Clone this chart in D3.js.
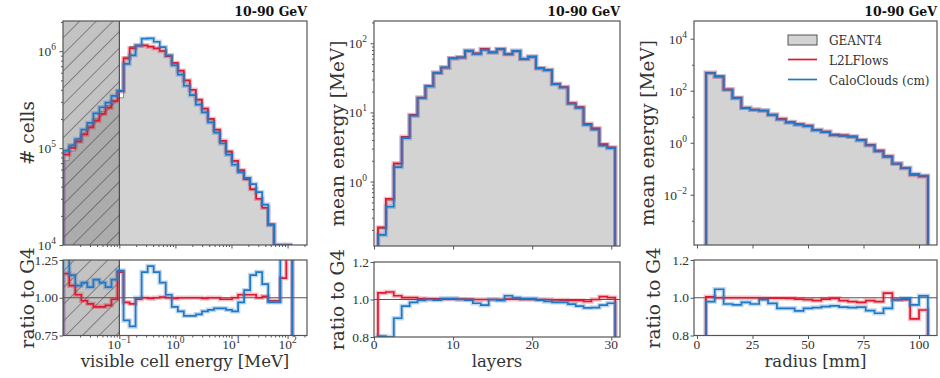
<!DOCTYPE html>
<html>
<head>
<meta charset="utf-8">
<script src="https://cdn.jsdelivr.net/npm/d3@7"></script>
<style>
body { margin: 0; background: #fff; }
.tick-label { font-family: "Liberation Serif", serif; font-size: 13.5px; fill: #333; }
.axis-label { font-family: "DejaVu Serif", serif; fill: #333; }
.title { font-family: "DejaVu Serif", serif; font-weight: bold; font-size: 12.5px; fill: #111; }
.legend { font-family: "DejaVu Serif", serif; font-size: 12px; fill: #333; }
</style>
</head>
<body>
<svg id="svg" width="940" height="378"></svg>
<script>
// ---- data ----

// visible cell energy, log bins from 0.01 MeV
const energyEdges = d3.range(39).map(k => Math.pow(10, -2 + 0.1075 * k));
const energyG4 = [74000, 93000, 115000, 141000, 170000, 204000, 240000, 275000, 309000, 330000,
  870000, 1120000, 1150000, 1150000, 1120000, 1070000, 1000000, 890000, 760000, 630000,
  500000, 400000, 316000, 257000, 200000, 155000, 120000, 93000, 74000, 58000,
  47000, 37000, 30000, 24000, 16600, 8000, 3200, 600];
const energyRatioL2L = [1.16, 1.08, 1.02, 0.98, 0.96, 0.94, 0.94, 0.95, 0.99, 1.17,
  0.97, 0.96, 0.99, 1.0, 0.995, 1.0, 1.005, 1.0, 0.995, 1.0,
  1.0, 1.0, 1.0, 0.995, 1.0, 1.0, 0.99, 0.99, 1.0, 1.02,
  1.02, 1.02, 1.0, 1.01, 0.98, 0.98, 1.13, 1.4];
const energyRatioCC = [1.27, 1.15, 1.08, 1.10, 1.07, 1.12, 1.10, 1.07, 1.12, 1.18,
  0.85, 0.81, 1.0, 1.17, 1.21, 1.17, 1.10, 1.02, 0.94, 0.91,
  0.88, 0.88, 0.89, 0.91, 0.92, 0.93, 0.93, 0.92, 0.91, 0.97,
  1.05, 1.15, 1.17, 1.09, 0.97, 0.97, 1.4, 1.5];

// layers 1..30
const layerEdges = d3.range(31).map(i => i + 0.5);
const layerG4 = [0.21, 0.54, 1.8, 4.4, 9.1, 16.3, 24, 37.5, 44.5, 60.5,
  62.5, 78, 71.5, 83, 74, 82.5, 69, 77, 59.3, 64,
  43.6, 41.3, 26, 23.3, 13.7, 12, 6.9, 5.9, 3.42, 3.1];
const layerRatioL2L = [1.035, 1.04, 1.02, 1.01, 1.01, 1.005, 1.003, 1.003, 1.003, 1.003,
  1.002, 1.002, 1.0, 1.0, 1.0, 1.0, 1.002, 1.002, 1.0, 1.0,
  1.0, 1.0, 0.998, 0.997, 0.995, 0.995, 0.99, 1.0, 1.015, 1.01];
const layerRatioCC = [0.805, 0.8, 0.9, 0.965, 0.985, 0.995, 1.0, 0.997, 1.005, 1.005,
  1.0, 0.997, 0.98, 0.97, 1.0, 0.995, 1.02, 1.01, 1.005, 1.005,
  0.997, 0.99, 0.985, 0.985, 0.975, 0.965, 0.955, 0.957, 0.97, 0.98];

// radius, 4 mm bins
const radiusEdges = d3.range(26).map(i => 4 + 4 * i);
const radiusG4 = [490, 348, 113, 54, 22, 19, 17.4, 12.1, 8.3, 6.3,
  5.3, 4.6, 3.2, 2.7, 2.05, 1.95, 1.78, 1.32, 0.85, 0.51,
  0.30, 0.16, 0.107, 0.065, 0.054];
const radiusRatioL2L = [1.005, 1.0, 1.0, 1.0, 1.0, 1.0, 0.998, 0.998, 0.998, 0.997,
  0.993, 0.99, 0.985, 0.993, 0.997, 0.985, 0.98, 0.975, 0.985, 0.98,
  1.025, 0.99, 0.99, 0.888, 0.935];
const radiusRatioCC = [0.98, 1.045, 0.967, 0.962, 0.976, 0.967, 0.99, 0.97, 0.944, 0.944,
  0.93, 0.944, 0.948, 0.953, 0.957, 0.95, 0.948, 0.95, 0.932, 0.918,
  0.944, 0.99, 0.998, 0.962, 1.01];

const legendNames = ['GEANT4', 'L2LFlows', 'CaloClouds (cm)'];
const titleText = '10-90 GeV';

const red = '#e0182f';
const blue = '#1f77c6';

var svg = d3.select('#svg');
var defs = svg.append('defs');

// hatch for the cut region
var hatch = defs.append('pattern')
  .attr('id', 'hatch')
  .attr('patternUnits', 'userSpaceOnUse')
  .attr('width', 11.8).attr('height', 11.8)
  .attr('patternTransform', 'rotate(45)');
hatch.append('line')
  .attr('x1', 0).attr('y1', 0).attr('x2', 0).attr('y2', 11.8)
  .attr('stroke', '#2a2a2a').attr('stroke-width', 1);

function minorLog(domain) {
  var out = [];
  var lo = Math.floor(Math.log10(domain[0])), hi = Math.ceil(Math.log10(domain[1]));
  for (var e = lo; e <= hi; e++) {
    for (var m = 2; m <= 9; m++) {
      var v = m * Math.pow(10, e);
      if (v >= domain[0] && v <= domain[1]) out.push(v);
    }
  }
  return out;
}

function stepPoints(x, y, edges, vals, base, top) {
  var pts = [[x(edges[0]), base]];
  for (var i = 0; i < vals.length; i++) {
    var yy = vals[i] > 0 ? Math.max(top - 20, Math.min(base, y(vals[i]))) : base;
    pts.push([x(edges[i]), yy]);
    pts.push([x(edges[i + 1]), yy]);
  }
  pts.push([x(edges[edges.length - 1]), base]);
  return pts;
}

function powLabel(sel, exp) {
  sel.text('10');
  sel.append('tspan').attr('dy', -6).attr('font-size', 9.5).text(exp);
}

var line = d3.line();

function panel(p) {
  var g = svg.append('g');

  // clips
  defs.append('clipPath').attr('id', 'cm' + p.id).append('rect')
    .attr('x', p.left).attr('y', p.top).attr('width', p.right - p.left).attr('height', p.bottom - p.top);
  defs.append('clipPath').attr('id', 'cr' + p.id).append('rect')
    .attr('x', p.left).attr('y', p.rtop).attr('width', p.right - p.left).attr('height', p.rbottom - p.rtop);

  var main = g.append('g').attr('clip-path', 'url(#cm' + p.id + ')');
  var rat = g.append('g').attr('clip-path', 'url(#cr' + p.id + ')');

  var l2l = p.g4.map((v, i) => v * p.rL2L[i]);
  var cc = p.g4.map((v, i) => v * p.rCC[i]);

  // G4 filled histogram
  main.append('path')
    .attr('d', line(stepPoints(p.x, p.y, p.edges, p.g4, p.bottom, p.top)))
    .attr('fill', '#d3d3d3').attr('stroke', '#8a8a8a').attr('stroke-width', 1);

  if (p.cut) {
    [[main, p.top, p.bottom], [rat, p.rtop, p.rbottom]].forEach(function (c) {
      c[0].append('rect')
        .attr('x', p.left).attr('y', c[1])
        .attr('width', p.x(p.cut) - p.left).attr('height', c[2] - c[1])
        .attr('fill', '#808080').attr('fill-opacity', 0.47);
      c[0].append('rect')
        .attr('x', p.left).attr('y', c[1])
        .attr('width', p.x(p.cut) - p.left).attr('height', c[2] - c[1])
        .attr('fill', 'url(#hatch)').attr('opacity', 0.9);
      c[0].append('line')
        .attr('x1', p.x(p.cut)).attr('x2', p.x(p.cut)).attr('y1', c[1]).attr('y2', c[2])
        .attr('stroke', '#333').attr('stroke-width', 1);
    });
  }

  // model lines with a light band
  [[l2l, red], [cc, blue]].forEach(function (s) {
    var d = line(stepPoints(p.x, p.y, p.edges, s[0], p.bottom, p.top));
    main.append('path').attr('d', d).attr('fill', 'none')
      .attr('stroke', s[1]).attr('stroke-opacity', 0.28).attr('stroke-width', 4.5);
    main.append('path').attr('d', d).attr('fill', 'none')
      .attr('stroke', s[1]).attr('stroke-width', 1.7);
  });

  // ratio
  rat.append('line')
    .attr('x1', p.left).attr('x2', p.right)
    .attr('y1', p.yr(1)).attr('y2', p.yr(1))
    .attr('stroke', '#555').attr('stroke-width', 1.2);
  [[p.rL2L, red], [p.rCC, blue]].forEach(function (s) {
    var d = line(stepPoints(p.x, p.yr, p.edges, s[0], p.rbottom + 5, p.rtop));
    rat.append('path').attr('d', d).attr('fill', 'none')
      .attr('stroke', s[1]).attr('stroke-opacity', 0.28).attr('stroke-width', 4.5);
    rat.append('path').attr('d', d).attr('fill', 'none')
      .attr('stroke', s[1]).attr('stroke-width', 1.7);
  });

  // frames
  [[p.top, p.bottom], [p.rtop, p.rbottom]].forEach(function (f) {
    g.append('rect')
      .attr('x', p.left).attr('y', f[0])
      .attr('width', p.right - p.left).attr('height', f[1] - f[0])
      .attr('fill', 'none').attr('stroke', '#555').attr('stroke-width', 1.2);
  });

  // axes (ticks only, labels drawn below)
  function ticks(axis, tr, vals, size) {
    var a = g.append('g').attr('transform', tr)
      .call(axis.tickValues(vals).tickFormat('').tickSize(size).tickSizeOuter(0));
    a.select('.domain').remove();
    a.selectAll('.tick line').attr('stroke', '#555').attr('stroke-width', 1);
  }
  ticks(d3.axisBottom(p.x), 'translate(0,' + p.bottom + ')', p.xTicks, 3.5);
  ticks(d3.axisBottom(p.x), 'translate(0,' + p.rbottom + ')', p.xTicks, 3.5);
  if (p.xMinor) {
    ticks(d3.axisBottom(p.x), 'translate(0,' + p.bottom + ')', p.xMinor, 2);
    ticks(d3.axisBottom(p.x), 'translate(0,' + p.rbottom + ')', p.xMinor, 2);
  }
  ticks(d3.axisLeft(p.y), 'translate(' + p.left + ',0)', p.yTicks, 3.5);
  ticks(d3.axisLeft(p.y), 'translate(' + p.left + ',0)', p.yMinor, 2);
  ticks(d3.axisLeft(p.yr), 'translate(' + p.left + ',0)', p.rTicks, 3.5);

  // tick labels
  g.selectAll()
    .data(p.yTicks)
    .enter()
    .append('text')
    .attr('class', 'tick-label')
    .attr('x', p.left - 7)
    .attr('y', d => p.y(d) + 5)
    .attr('text-anchor', 'end')
    .each(function (d) { powLabel(d3.select(this), String(Math.round(Math.log10(d))).replace('-', '\u2212')); });

  g.selectAll()
    .data(p.rTicks)
    .enter()
    .append('text')
    .attr('class', 'tick-label')
    .attr('x', p.left - 5)
    .attr('y', d => p.yr(d) + 4.5)
    .attr('text-anchor', 'end')
    .text(d => d.toFixed(p.rDigits));

  g.selectAll()
    .data(p.xTicks)
    .enter()
    .append('text')
    .attr('class', 'tick-label')
    .attr('x', d => p.x(d))
    .attr('y', 349)
    .attr('text-anchor', 'middle')
    .each(function (d) {
      if (p.xLog) powLabel(d3.select(this), String(Math.round(Math.log10(d))).replace('-', '\u2212'));
      else d3.select(this).text(d);
    });

  // axis labels
  g.append('text')
    .attr('class', 'axis-label')
    .attr('font-size', 16.5)
    .attr('x', (p.left + p.right) / 2)
    .attr('y', 367)
    .attr('text-anchor', 'middle')
    .text(p.xLabel);
  g.append('text')
    .attr('class', 'axis-label')
    .attr('font-size', 18.5)
    .attr('transform', 'translate(' + p.yLabelX + ',' + (p.top + p.bottom) / 2 + ') rotate(-90)')
    .attr('text-anchor', 'middle')
    .text(p.yLabel);
  g.append('text')
    .attr('class', 'axis-label')
    .attr('font-size', 18.5)
    .attr('transform', 'translate(' + p.rLabelX + ',' + (p.rtop + p.rbottom) / 2 + ') rotate(-90)')
    .attr('text-anchor', 'middle')
    .text('ratio to G4');

  g.append('text')
    .attr('class', 'title')
    .attr('x', p.right)
    .attr('y', 16)
    .attr('text-anchor', 'end')
    .text(titleText);
}

// panel 1: visible cell energy
var eDom = [0.0099, 222];
var y1Dom = [1e4, 2.05e6];
panel({
  id: 1, left: 63, right: 307, top: 21, bottom: 245, rtop: 260, rbottom: 335.5,
  x: d3.scaleLog().domain(eDom).range([63, 307]),
  y: d3.scaleLog().domain(y1Dom).range([245, 21]),
  yr: d3.scaleLinear().domain([0.75, 1.25]).range([335.5, 260]),
  edges: energyEdges, g4: energyG4, rL2L: energyRatioL2L, rCC: energyRatioCC,
  cut: 0.1, xLog: true,
  xTicks: [0.1, 1, 10, 100], xMinor: minorLog(eDom),
  yTicks: [1e4, 1e5, 1e6], yMinor: minorLog(y1Dom),
  rTicks: [0.75, 1.0, 1.25], rDigits: 2,
  xLabel: 'visible cell energy [MeV]', yLabel: '# cells',
  yLabelX: 34, rLabelX: 34
});

// panel 2: layers
var y2Dom = [0.117, 210];
panel({
  id: 2, left: 374, right: 620, top: 21, bottom: 246, rtop: 262, rbottom: 337,
  x: d3.scaleLinear().domain([0, 31.1]).range([374, 620]),
  y: d3.scaleLog().domain(y2Dom).range([246, 21]),
  yr: d3.scaleLinear().domain([0.8, 1.2]).range([337, 262]),
  edges: layerEdges, g4: layerG4, rL2L: layerRatioL2L, rCC: layerRatioCC,
  xTicks: [0, 10, 20, 30],
  yTicks: [1, 10, 100], yMinor: minorLog(y2Dom),
  rTicks: [0.8, 1.0, 1.2], rDigits: 1,
  xLabel: 'layers', yLabel: 'mean energy [MeV]',
  yLabelX: 344, rLabelX: 344
});

// panel 3: radius
var y3Dom = [1.17e-4, 4.8e4];
panel({
  id: 3, left: 694, right: 937, top: 21, bottom: 245, rtop: 260, rbottom: 335.5,
  x: d3.scaleLinear().domain([-1.35, 108.1]).range([694, 937]),
  y: d3.scaleLog().domain(y3Dom).range([245, 21]),
  yr: d3.scaleLinear().domain([0.8, 1.2]).range([335.5, 260]),
  edges: radiusEdges, g4: radiusG4, rL2L: radiusRatioL2L, rCC: radiusRatioCC,
  xTicks: [0, 25, 50, 75, 100],
  yTicks: [1e-2, 1, 1e2, 1e4], yMinor: [1e-3, 1e-1, 10, 1e3],
  rTicks: [0.8, 1.0, 1.2], rDigits: 1,
  xLabel: 'radius [mm]', yLabel: 'mean energy [MeV]',
  yLabelX: 654, rLabelX: 660
});

// legend
var leg = svg.append('g');
leg.append('rect')
  .attr('x', 788).attr('y', 35).attr('width', 29).attr('height', 10)
  .attr('fill', '#d3d3d3').attr('stroke', '#555').attr('stroke-width', 1);
[[red, 59.5], [blue, 79.5]].forEach(function (c) {
  leg.append('line')
    .attr('x1', 788).attr('x2', 817).attr('y1', c[1]).attr('y2', c[1])
    .attr('stroke', c[0]).attr('stroke-width', 1.7);
});
leg.selectAll()
  .data(legendNames)
  .enter()
  .append('text')
  .attr('class', 'legend')
  .attr('x', 829)
  .attr('y', (d, i) => 45 + i * 20)
  .text(d => d);
</script>
</body>
</html>
